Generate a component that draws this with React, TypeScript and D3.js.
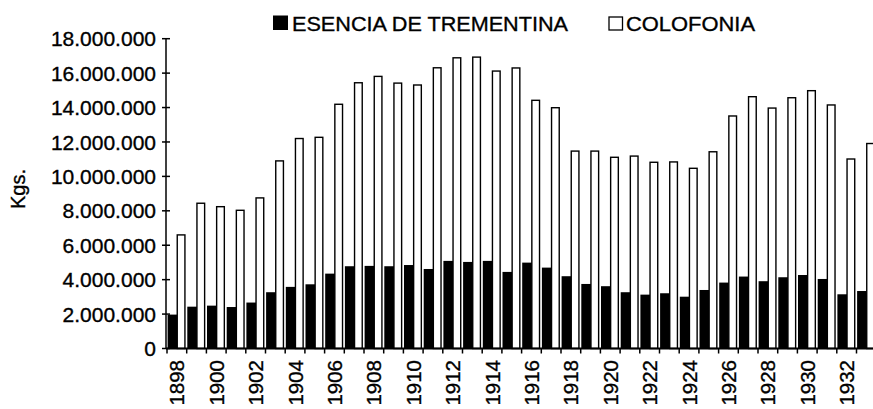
import React from "react";
import * as d3 from "d3";

const years: string[] = [
  "1898", "1899", "1900", "1901", "1902", "1903", "1904", "1905", "1906",
  "1907", "1908", "1909", "1910", "1911", "1912", "1913", "1914", "1915",
  "1916", "1917", "1918", "1919", "1920", "1921", "1922", "1923", "1924",
  "1925", "1926", "1927", "1928", "1929", "1930", "1931", "1932", "1933",
];

const esencia: number[] = [
  1970000, 2430000, 2490000, 2410000, 2670000, 3270000, 3580000, 3730000, 4350000,
  4780000, 4800000, 4780000, 4850000, 4620000, 5090000, 5030000, 5090000, 4450000,
  4990000, 4700000, 4200000, 3750000, 3620000, 3270000, 3130000, 3210000, 3010000,
  3400000, 3830000, 4180000, 3910000, 4140000, 4270000, 4040000, 3150000, 3340000,
];

const colofonia: number[] = [
  6600000, 8440000, 8240000, 8030000, 8750000, 10900000, 12200000, 12270000, 14190000,
  15440000, 15810000, 15420000, 15310000, 16310000, 16890000, 16930000, 16120000, 16300000,
  14420000, 13990000, 11470000, 11470000, 11110000, 11180000, 10820000, 10840000, 10470000,
  11430000, 13510000, 14630000, 13970000, 14570000, 14980000, 14150000, 11010000, 11910000,
];

const yTicks: number[] = [0, 2000000, 4000000, 6000000, 8000000, 10000000, 12000000, 14000000, 16000000, 18000000];
const xLabels: string[] = [
  "1898", "1900", "1902", "1904", "1906", "1908", "1910", "1912", "1914",
  "1916", "1918", "1920", "1922", "1924", "1926", "1928", "1930", "1932",
];

const legendLabels: string[] = ["ESENCIA DE TREMENTINA", "COLOFONIA"];
const yTitle = "Kgs.";

const W = 873;
const H = 409;
const FONT = "'Liberation Sans', Arial, Helvetica, sans-serif";
const TXT = { fontFamily: FONT, fill: "#000", stroke: "#000", strokeWidth: 0.35 } as const;

export default function App() {
  const x0 = 167;
  const step = 19.7;
  const x = d3
    .scaleBand<string>()
    .domain(years)
    .range([x0, x0 + step * years.length])
    .paddingInner(0)
    .paddingOuter(0);
  const y = d3.scaleLinear().domain([0, 18000000]).range([348.5, 38.7]);
  const bw = x.bandwidth();

  const locale = d3.formatLocale({
    decimal: ",",
    thousands: ".",
    grouping: [3],
    currency: ["", ""],
  });
  const fmt = locale.format(",");

  const axisX = 166;
  const baseY = y(0);

  return (
    <svg
      width={W}
      height={H}
      viewBox={`0 0 ${W} ${H}`}
      style={{ position: "absolute", left: 0, top: 0, background: "#fff" }}
    >
      <rect x={0} y={0} width={W} height={H} fill="#fff" />
      {years.map((yr, i) => {
        const bx = x(yr)!;
        return (
          <g key={yr}>
            <rect
              x={bx + 0.6}
              y={y(esencia[i])}
              width={bw * 0.5}
              height={baseY - y(esencia[i])}
              fill="#000"
            />
            <rect
              x={bx + bw * 0.52}
              y={y(colofonia[i])}
              width={bw * 0.39}
              height={baseY - y(colofonia[i])}
              fill="#fff"
              stroke="#000"
              strokeWidth={1.4}
            />
          </g>
        );
      })}

      <line x1={axisX} x2={axisX} y1={y(18000000)} y2={baseY} stroke="#000" strokeWidth={1.5} />
      {yTicks.map((t) => (
        <g key={t}>
          <line x1={axisX - 4} x2={axisX + 4} y1={y(t)} y2={y(t)} stroke="#000" strokeWidth={1.5} />
          <text x={156} y={y(t)} dy="0.36em" textAnchor="end" fontSize={21} {...TXT}>
            {fmt(t)}
          </text>
        </g>
      ))}

      <line x1={axisX} x2={W} y1={baseY} y2={baseY} stroke="#000" strokeWidth={2} />
      {years.map((yr) => (
        <line
          key={"t" + yr}
          x1={x(yr)!}
          x2={x(yr)!}
          y1={baseY}
          y2={baseY + 5}
          stroke="#000"
          strokeWidth={1.5}
        />
      ))}
      {xLabels.map((lab) => {
        const cx = x(lab)! + bw / 2;
        return (
          <text
            key={"l" + lab}
            transform={`translate(${cx + 7.5},${360}) rotate(-90)`}
            textAnchor="end"
            fontSize={20.5}
            {...TXT}
          >
            {lab}
          </text>
        );
      })}

      <text transform={`translate(25,189) rotate(-90)`} textAnchor="middle" fontSize={20} {...TXT}>
        {yTitle}
      </text>

      <rect x={273} y={15.5} width={15} height={14.5} fill="#000" />
      <text x={292} y={30.5} fontSize={21} textLength={276} lengthAdjust="spacingAndGlyphs" {...TXT}>
        {legendLabels[0]}
      </text>
      <rect x={609} y={17} width={13.5} height={13} fill="#fff" stroke="#000" strokeWidth={1.3} />
      <text x={626} y={30.5} fontSize={21} textLength={129} lengthAdjust="spacingAndGlyphs" {...TXT}>
        {legendLabels[1]}
      </text>
    </svg>
  );
}
